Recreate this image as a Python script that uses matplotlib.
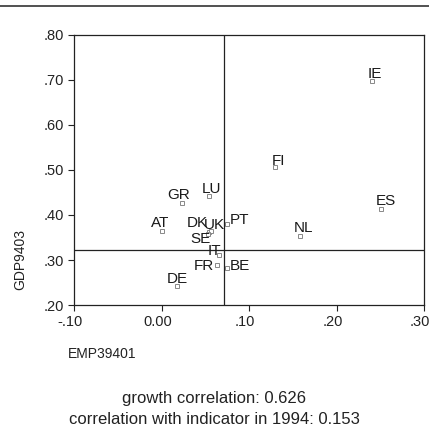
import matplotlib
matplotlib.use("Agg")
import matplotlib.pyplot as plt
import matplotlib.transforms as mtransforms
from matplotlib.lines import Line2D

plt.rcParams["font.family"] = ["Liberation Sans", "DejaVu Sans"]

countries = ["IE", "FI", "ES", "LU", "GR", "AT", "DK", "UK", "SE",
             "PT", "NL", "IT", "FR", "BE", "DE"]
emp = [0.240, 0.130, 0.251, 0.054, 0.023, 0.001, 0.054, 0.056, 0.053,
       0.075, 0.158, 0.066, 0.063, 0.075, 0.018]
gdp = [0.697, 0.507, 0.413, 0.442, 0.426, 0.364, 0.362, 0.364, 0.357,
       0.381, 0.354, 0.311, 0.290, 0.283, 0.243]

emp_mean = 0.071
gdp_mean = 0.322

x_ticks = [-0.10, 0.00, 0.10, 0.20, 0.30]
x_ticklabels = ["-.10", "0.00", ".10", ".20", ".30"]
y_ticks = [0.20, 0.30, 0.40, 0.50, 0.60, 0.70, 0.80]
y_ticklabels = [".20", ".30", ".40", ".50", ".60", ".70", ".80"]

growth_corr = 0.626
indicator_corr = 0.153

# label offsets in pixels (text left / baseline relative to marker)
label_offsets = {
    "IE": (-4, 3), "FI": (-4, 2), "ES": (-5, 4), "LU": (-7, 3),
    "GR": (-14, 4), "AT": (-11, 4), "DK": (-22, 5), "UK": (-7, 2),
    "SE": (-18, -9), "PT": (3, 0), "NL": (-6, 4), "IT": (-12, 0),
    "FR": (-23, -5), "BE": (3, -2), "DE": (-11, 3),
}

fig = plt.figure(figsize=(4.29, 4.33), dpi=100)
ax = fig.add_axes([0.1725, 0.2956, 0.816, 0.6236])

ax.plot(emp, gdp, "s", ms=2.6, mfc="white", mec="#888888", mew=0.7)
for name, x, y in zip(countries, emp, gdp):
    dx, dy = label_offsets[name]
    ax.annotate(name, (x, y), xytext=(dx, dy), textcoords="offset pixels",
                ha="left", va="baseline", fontsize=11, color="#1a1a1a")

ax.axhline(gdp_mean, color="#222222", lw=0.9)
ax.axvline(emp_mean, color="#222222", lw=0.9)

ax.set_xlim(-0.10, 0.30)
ax.set_ylim(0.20, 0.80)
ax.set_xticks(x_ticks)
ax.set_xticklabels(x_ticklabels)
ax.set_yticks(y_ticks)
ax.set_yticklabels(y_ticklabels)
ax.tick_params(direction="out", length=4, width=0.8, labelsize=10.5,
               colors="#222222", pad=3)
# x tick labels sit a little left of their ticks in the original
shift = mtransforms.ScaledTranslation(-4 / 100, 0, fig.dpi_scale_trans)
for lbl in ax.get_xticklabels():
    lbl.set_transform(lbl.get_transform() + shift)
for sp in ax.spines.values():
    sp.set_linewidth(0.9)
    sp.set_color("#222222")

fig.text(20 / 429, 1 - 290 / 433, "GDP9403", rotation=90, ha="center",
         va="bottom", fontsize=10, color="#222222")
fig.text(68 / 429, 1 - 354 / 433, "EMP39401", ha="left", va="center",
         fontsize=10, color="#222222")

fig.text(0.5, 1 - 398 / 433, f"growth correlation: {growth_corr:.3f}",
         ha="center", va="center", fontsize=12, color="#222222")
fig.text(0.5, 1 - 420 / 433,
         f"correlation with indicator in 1994: {indicator_corr:.3f}",
         ha="center", va="center", fontsize=12, color="#222222")

fig.add_artist(Line2D([0, 1], [1 - 5.5 / 433, 1 - 5.5 / 433],
                      transform=fig.transFigure, color="#333333", lw=1.2))

fig.savefig("out.png", dpi=100)
